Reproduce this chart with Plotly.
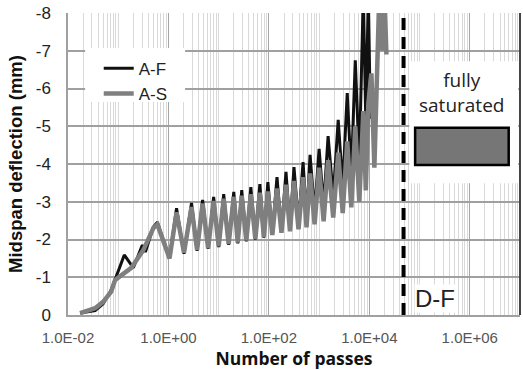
import plotly.graph_objects as go

# ---- data ----
af_n = [0.0174, 0.0347, 0.0501, 0.0724, 0.132, 0.200, 0.302, 0.347, 0.501, 0.603,
        1.05, 1.45, 2.04, 2.88, 3.72, 4.79, 6.17, 7.94, 10.0, 12.6, 15.8, 20.0, 24.0,
        28.8, 35.5, 43.7, 53.7, 66.1, 79.4, 95.5, 117, 145, 178, 219, 263, 316, 389,
        479, 562, 661, 813, 1000, 1230, 1510, 1910, 2400, 2950, 3630, 4370, 5250,
        6310, 7590, 8510, 9550, 10500]
af_y = [-0.05, -0.12, -0.30, -0.66, -1.59, -1.25, -1.85, -1.67, -2.33, -2.46,
        -1.50, -2.83, -1.62, -2.97, -1.70, -3.05, -1.75, -3.13, -1.80, -3.20, -1.86,
        -3.26, -1.90, -3.31, -1.95, -3.39, -2.00, -3.47, -2.05, -3.52, -2.12, -3.65,
        -2.20, -3.79, -2.30, -3.92, -2.42, -4.05, -2.55, -4.24, -2.72, -4.40, -2.90,
        -4.74, -3.15, -5.17, -3.40, -5.88, -3.70, -6.75, -4.05, -8.50, -5.10, -8.50,
        -5.20]

as_n = [0.0174, 0.0347, 0.0501, 0.0724, 0.087, 0.182, 0.316, 0.501, 0.603,
        1.05, 1.45, 2.04, 2.88, 3.72, 4.79, 6.17, 7.94, 10.0, 12.6, 15.8, 20.0, 24.0,
        28.8, 35.5, 43.7, 53.7, 66.1, 79.4, 95.5, 117, 145, 178, 219, 263, 316, 389,
        479, 562, 661, 813, 1000, 1230, 1510, 1910, 2400, 2950, 3630, 4370, 5250,
        6310, 7590, 8510, 9550, 11000, 12600, 15800, 18200, 20000, 21900]
as_y = [-0.05, -0.18, -0.35, -0.62, -0.93, -1.25, -1.72, -2.30, -2.40,
        -1.50, -2.72, -1.65, -2.86, -1.72, -2.95, -1.77, -3.02, -1.82, -3.08, -1.88,
        -3.13, -1.92, -3.16, -1.97, -3.20, -2.02, -3.24, -2.07, -3.27, -2.12, -3.35,
        -2.18, -3.45, -2.22, -3.55, -2.27, -3.65, -2.32, -3.75, -2.40, -3.90, -2.48,
        -4.10, -2.58, -4.30, -2.70, -4.60, -2.85, -5.00, -3.00, -5.40, -3.30, -5.60,
        -6.40, -3.90, -8.50, -7.00, -8.50, -6.90]

df_n = [48000, 48000]
df_y = [0, -8]

x_tickvals = [0.01, 1, 100, 1e4, 1e6]
x_ticktext = ["1.0E-02", "1.0E+00", "1.0E+02", "1.0E+04", "1.0E+06"]
y_tickvals = [0, -1, -2, -3, -4, -5, -6, -7, -8]
y_ticktext = ["0", "-1", "-2", "-3", "-4", "-5", "-6", "-7", "-8"]

fig = go.Figure()
fig.add_trace(go.Scatter(x=df_n, y=df_y, mode="lines", showlegend=False,
                         line=dict(color="black", width=4, dash="12px,7px")))
fig.add_trace(go.Scatter(x=af_n, y=af_y, mode="lines", name="A-F",
                         line=dict(color="#111111", width=3)))
fig.add_trace(go.Scatter(x=as_n, y=as_y, mode="lines", name="A-S",
                         line=dict(color="#7f7f7f", width=4.5)))

fig.update_layout(
    width=523, height=370,
    margin=dict(l=68, r=3, t=13, b=55),
    paper_bgcolor="white", plot_bgcolor="white",
    font=dict(family="Liberation Sans, Arial", color="#222"),
    legend=dict(x=0.068, y=0.875, xanchor="left", yanchor="top",
                bgcolor="rgba(0,0,0,0)", font=dict(size=17, color="#222"),
                tracegroupgap=0, itemwidth=30),
    xaxis=dict(type="log", range=[-2, 7], tickmode="array",
               tickvals=x_tickvals, ticktext=x_ticktext,
               tickfont=dict(size=15, color="#555"), ticklabelstandoff=8,
               showgrid=True, gridcolor="#a6a6a6", gridwidth=1,
               minor=dict(dtick="D1", showgrid=True, gridcolor="#d9d9d9",
                          gridwidth=1, ticks=""),
               showline=True, linecolor="#a0a0a0", linewidth=1.5,
               mirror=False, zeroline=False, ticks="",
               title=dict(text="<b>Number of passes</b>", standoff=4,
                          font=dict(size=17.5, family="Open Sans", color="#111"))),
    yaxis=dict(range=[0, -8], tickmode="array", tickvals=y_tickvals,
               ticktext=y_ticktext, tickfont=dict(size=17, color="#222"),
               ticklabelstandoff=12,
               showgrid=True, gridcolor="#a0a0a0", gridwidth=1.5,
               showline=True, linecolor="#a0a0a0", linewidth=1.5,
               zeroline=False, ticks="",
               title=dict(text="<b>Midspan deflection (mm)</b>", standoff=8,
                          font=dict(size=18.5, family="Liberation Sans", color="#111"))),
)

# white legend backdrop (hides gridlines; no data passes through this area)
fig.add_shape(type="rect", xref="paper", yref="paper", x0=0.038, x1=0.259,
              y0=0.705, y1=0.884, fillcolor="white", line=dict(width=0), layer="above")
# right border
fig.add_shape(type="line", xref="paper", yref="paper", x0=1, x1=1, y0=0, y1=1,
              line=dict(color="#444", width=2))
# fully saturated key box
fig.add_shape(type="rect", xref="paper", yref="paper", x0=0.755, x1=0.996,
              y0=0.436, y1=0.84, fillcolor="white", line=dict(width=0), layer="above")
fig.add_shape(type="rect", xref="paper", yref="paper", x0=0.768, x1=0.975,
              y0=0.497, y1=0.62, fillcolor="#767676",
              line=dict(color="black", width=2.5), layer="above")
fig.add_annotation(text="fully<br>saturated", xref="paper", yref="paper",
                   x=0.87, y=0.645, xanchor="center", yanchor="bottom",
                   showarrow=False,
                   font=dict(size=19, family="Open Sans", color="#222"))
fig.add_annotation(text="D-F", xref="paper", yref="paper", x=0.765, y=0.007,
                   xanchor="left", yanchor="bottom", showarrow=False,
                   bgcolor="white", borderpad=0,
                   font=dict(size=24, family="Liberation Sans", color="#222"))

fig.write_html("out.html")
